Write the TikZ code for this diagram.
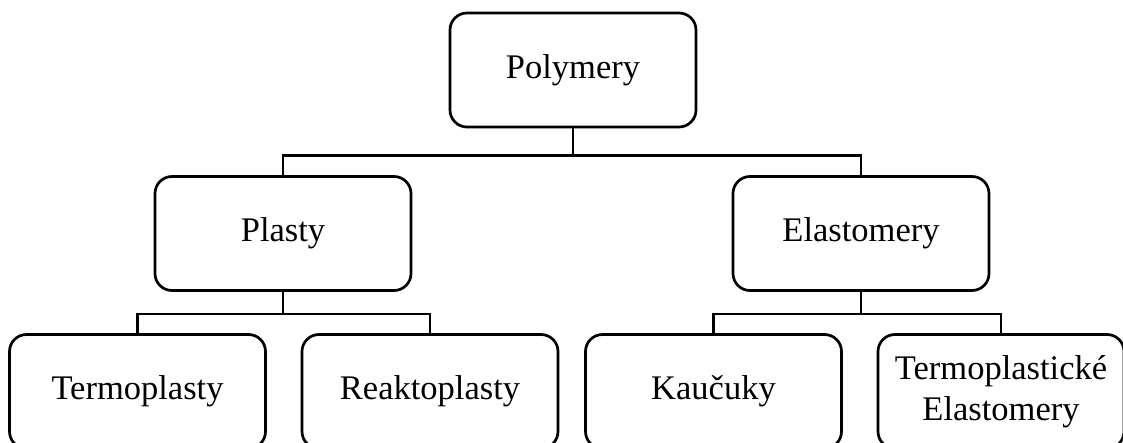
\documentclass[tikz,border=0pt]{standalone}
\usepackage{fontspec}
\setmainfont{Liberation Serif}
\usetikzlibrary{positioning}

\begin{document}
\begin{tikzpicture}[node distance=163.5pt, line width=2.7pt,
  block/.style={draw, rounded corners=17pt, minimum width=256pt, minimum height=114pt, align=center, font=\fontsize{34.5}{41}\selectfont}]

  \useasboundingbox (-573pt,70pt) rectangle (550pt,-372pt);

  % Top
  \node[block, minimum width=246pt] (Pol) {Polymery};

  % Second row
  \node[block, below of=Pol, xshift=-290pt] (Pla) {Plasty};
  \node[block, below of=Pol, xshift=288pt] (Ela) {Elastomery};

  % Third row
  \node[block, below of=Pla, xshift=-145.5pt, yshift=5.5pt] (Ter) {Termoplasty};
  \node[block, below of=Pla, xshift=147pt, yshift=5.5pt] (Rea) {Reaktoplasty};
  \node[block, below of=Ela, xshift=-147.5pt, yshift=5.5pt] (Kau) {Kaučuky};
  \node[block, below of=Ela, xshift=140pt, yshift=5.5pt, minimum width=246pt] (TEl) {Termoplastické\\Elastomery};

  % Joints
  \draw (Pol.south) -- ++(0,-27pt) coordinate (J1);
  \draw (Pla.south) -- ++(0,-22pt) coordinate (J2);
  \draw (Ela.south) -- ++(0,-22pt) coordinate (J3);

  % Bars
  \draw (Pla.north) |- (J1) -| (Ela.north);
  \draw (Ter.north) |- (J2) -| (Rea.north);
  \draw (Kau.north) |- (J3) -| (TEl.north);

\end{tikzpicture}
\end{document}
